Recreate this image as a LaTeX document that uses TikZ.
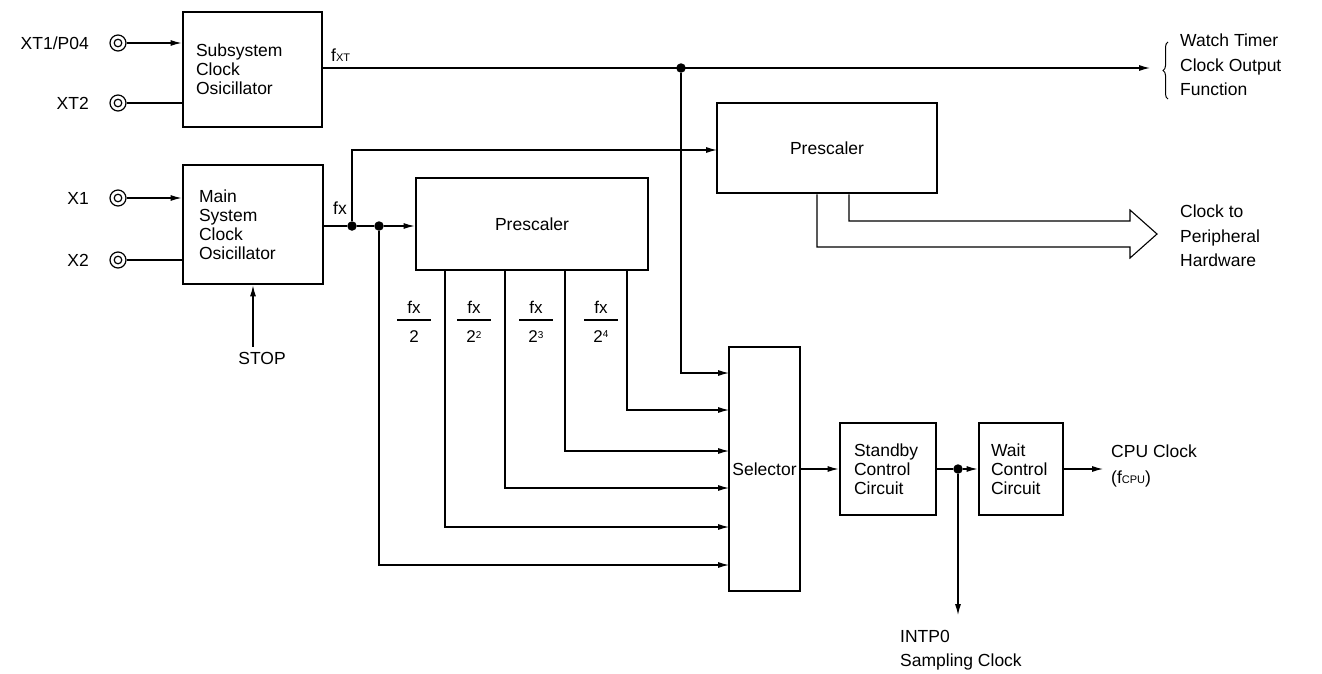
\documentclass[tikz,border=0pt]{standalone}
\usepackage{fontspec}
\setmainfont{Liberation Sans}
\usetikzlibrary{arrows.meta,decorations.pathreplacing}
\begin{document}
\begin{tikzpicture}[x=1pt,y=-1pt,
  box/.style={draw, line width=2.8pt, inner sep=0pt, align=left,
    font=\fontsize{17.5}{19}\selectfont},
  wire/.style={line width=1.1pt},
  arr/.style={wire, -{Latex[length=11pt,width=6pt]}},
  dot/.style={circle, fill, inner sep=0pt, minimum size=9.5pt},
  term/.style={circle, draw, line width=1.2pt, minimum size=16pt, inner sep=0pt},
  lbl/.style={inner sep=0pt, align=left, font=\fontsize{17.5}{24.5}\selectfont},
  fr/.style={inner sep=0pt, font=\fontsize{17}{17}\selectfont},
  ]
\useasboundingbox (0,0) rectangle (1322,673);
% boxes
\node[box, minimum width=139pt, minimum height=115pt, text width=113pt] (sub) at (252.5,69.5) {Subsystem\\Clock\\Osicillator};
\node[box, minimum width=140pt, minimum height=119pt, text width=108pt] (main) at (253,224.5) {Main\\System\\Clock\\Osicillator};
\node[box, minimum width=232pt, minimum height=92pt] (pre1) at (532,224) {Prescaler};
\node[box, minimum width=220pt, minimum height=90pt] (pre2) at (827,148) {Prescaler};
\node[box, minimum width=71pt, minimum height=244pt] (sel) at (764.5,469) {Selector};
\node[box, minimum width=96pt, minimum height=92pt, text width=68pt] (stb) at (888,469) {Standby\\Control\\Circuit};
\node[box, minimum width=84pt, minimum height=92pt, text width=60pt] (wait) at (1021,469) {Wait\\Control\\Circuit};
% terminals
\foreach \n/\y in {t1/43,t2/103,t3/198,t4/260}{
  \node[term] (\n) at (118,\y) {};
  \draw[line width=1.2pt] (\n.center) circle (3.8);
}
\node[lbl, anchor=east] (lt1) at (89,43) {XT1/P04};
\node[lbl, anchor=east] (lt2) at (89,103) {XT2};
\node[lbl, anchor=east] (lt3) at (89,198) {X1};
\node[lbl, anchor=east] (lt4) at (89,260) {X2};
\draw[arr] (t1) -- (sub.west |- t1);
\draw[wire] (t2) -- (sub.west |- t2);
\draw[arr] (t3) -- (main.west |- t3);
\draw[wire] (t4) -- (main.west |- t4);
% STOP
\node[lbl] (stop) at (262,358) {STOP};
\draw[arr] (stop.north -| main.south) ++(0,-5) -- (main.south);
% fXT line
\node[dot] (d0) at (681,68) {};
\coordinate (wt) at (1150,68);
\node[lbl, anchor=west] (fxt) at (331,55) {f{\fontsize{11}{11}\selectfont XT}};
\draw[arr] (sub.east |- d0) -- (wt);
\draw[decorate, decoration={brace, amplitude=5pt}, line width=1pt] (1168,99) -- (1168,42);
\node[lbl, anchor=west] (wtl) at (1180,65) {Watch Timer\\Clock Output\\Function};
% fx line
\node[dot] (d1) at (352,226) {};
\node[dot] (d2) at (379,226) {};
\node[lbl, anchor=west] (fxl) at (333,208) {fx};
\draw[wire] (main.east |- d1) -- (d1) -- (d2);
\draw[arr] (d2) -- (pre1.west |- d2);
\coordinate (p2in) at (717,150);
\draw[arr] (d1) |- (p2in);
% selector inputs
\foreach \i/\y in {1/373,2/410,3/451,4/488,5/527,6/565}{
  \coordinate (in\i) at (729,\y);
}
\draw[arr] (d0) |- (in1);
\draw[arr] (pre1.south -| 627,0) |- (in2);
\draw[arr] (pre1.south -| 565,0) |- (in3);
\draw[arr] (pre1.south -| 505,0) |- (in4);
\draw[arr] (pre1.south -| 445,0) |- (in5);
\draw[arr] (d2) |- (in6);
% fractions
\foreach \x/\d [count=\k] in {414/2,474/2\raisebox{5pt}{\fontsize{10}{10}\selectfont 2},536/2\raisebox{5pt}{\fontsize{10}{10}\selectfont 3},601/2\raisebox{5pt}{\fontsize{10}{10}\selectfont 4}}{
  \node[fr] (fn\k) at (\x,307) {fx};
  \node[fr] (fd\k) at (\x,337) {\d};
  \draw[line width=1.6pt] (\x-17,320) -- (\x+17,320);
}
% upper prescaler output (wide arrow)
\draw[wire] (pre2.south -| 849,0) |- (1130,221) -- (1130,210) -- (1157,234) -- (1130,258) -- (1130,247) -| (pre2.south -| 817,0);
\node[lbl, anchor=west] (clk) at (1180,236) {Clock to\\Peripheral\\Hardware};
% right chain
\node[dot] (d3) at (958,469) {};
\coordinate (intp) at (958,615);
\coordinate (cpu) at (1103,469);
\draw[arr] (sel.east) -- (stb.west);
\draw[wire] (stb.east) -- (d3);
\draw[arr] (d3) -- (wait.west);
\draw[arr] (d3) -- (intp);
\draw[arr] (wait.east) -- (cpu);
\node[lbl, anchor=west, font=\fontsize{17.5}{26}\selectfont] (cpul) at (1111,466) {CPU Clock\\(f{\fontsize{11}{11}\selectfont CPU})};
\node[lbl, anchor=west] (intpl) at (900,650) {INTP0\\Sampling Clock};
\end{tikzpicture}
\end{document}
